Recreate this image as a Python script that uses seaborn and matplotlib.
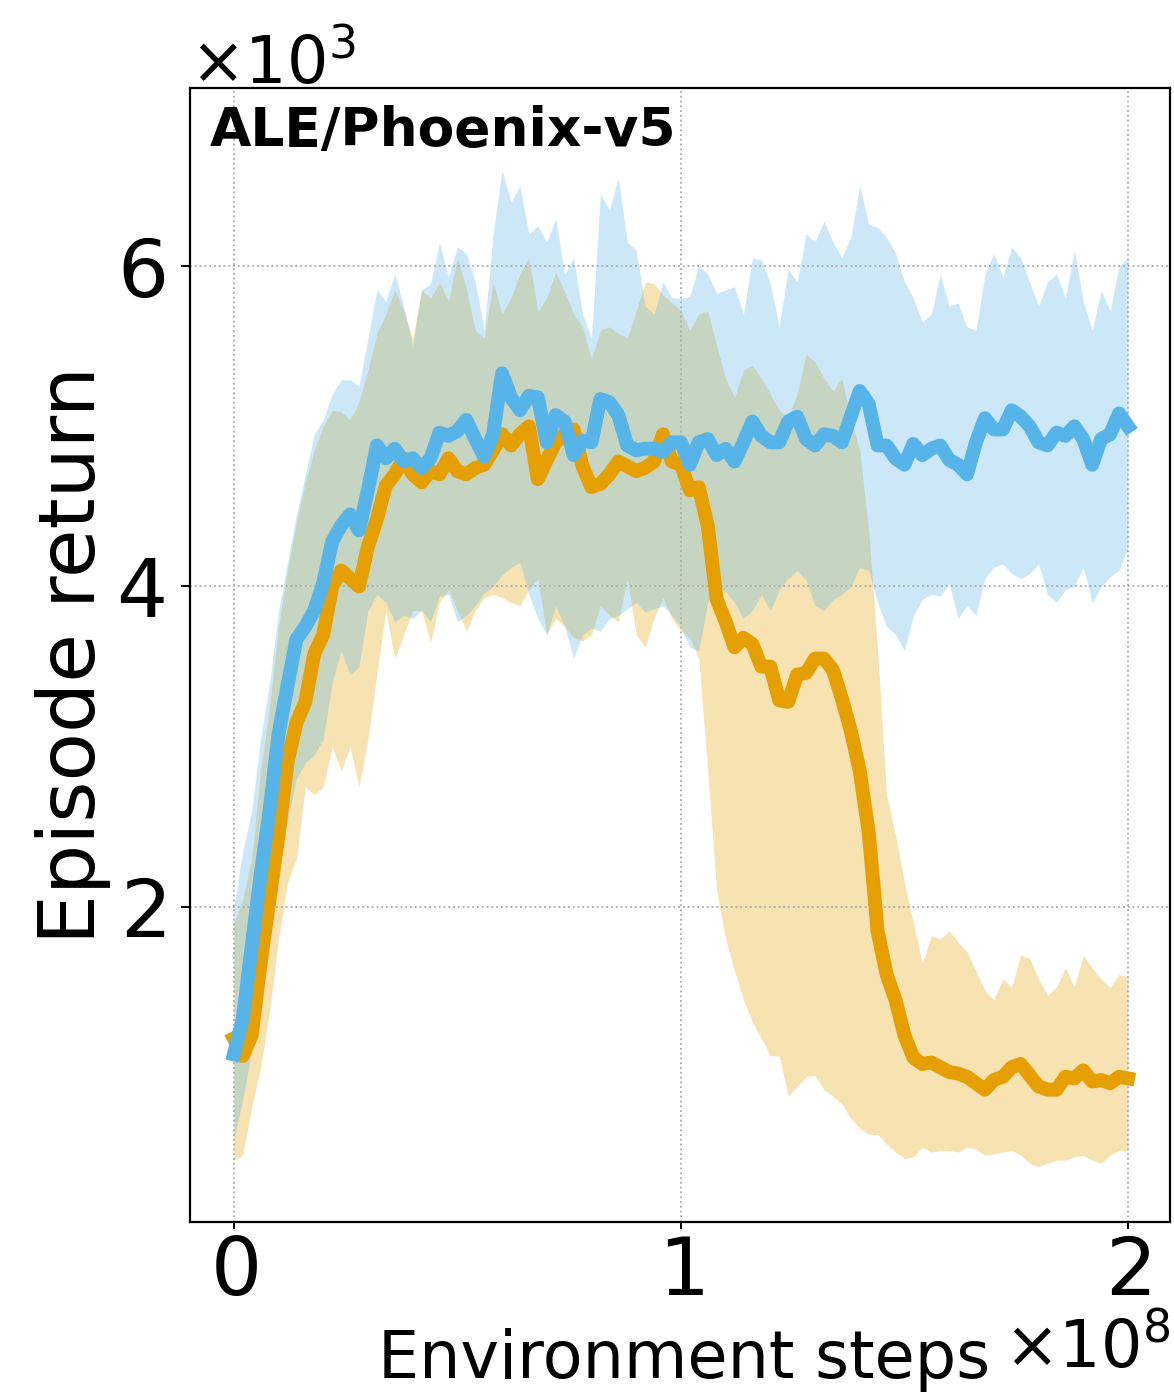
import numpy as np
import pandas as pd
import matplotlib
matplotlib.use("Agg")
import matplotlib.pyplot as plt
import seaborn as sns
from matplotlib.ticker import ScalarFormatter

# Environment steps: 101 evaluation points from 0 to 2e8
steps = np.linspace(0, 2e8, 101)

# Episode return (in thousands), mean and shaded band for each run group
blue_mean = [
    1.08, 1.30, 1.75, 2.20, 2.60, 3.08, 3.38, 3.67, 3.75, 3.85,
    4.02, 4.28, 4.38, 4.45, 4.35, 4.60, 4.88, 4.80, 4.86, 4.78,
    4.80, 4.74, 4.80, 4.96, 4.94, 4.97, 5.04, 4.92, 4.81, 4.95,
    5.33, 5.18, 5.10, 5.19, 5.18, 4.90, 5.07, 5.03, 4.82, 4.91,
    4.90, 5.17, 5.15, 5.07, 4.88, 4.85, 4.86, 4.86, 4.84, 4.90,
    4.90, 4.76, 4.90, 4.92, 4.82, 4.86, 4.78, 4.90, 5.03, 4.94,
    4.90, 4.90, 5.03, 5.06, 4.92, 4.88, 4.95, 4.94, 4.90, 5.06,
    5.22, 5.14, 4.88, 4.88, 4.80, 4.76, 4.89, 4.82, 4.86, 4.88,
    4.79, 4.76, 4.70, 4.90, 5.05, 4.98, 4.98, 5.10, 5.06, 5.00,
    4.90, 4.88, 4.96, 4.94, 5.00, 4.92, 4.76, 4.92, 4.95, 5.08,
    5.00,
]
blue_upper = [
    2.00, 2.35, 2.60, 3.05, 3.40, 3.85, 4.15, 4.45, 4.70, 4.95,
    5.04, 5.20, 5.29, 5.29, 5.25, 5.55, 5.85, 5.78, 5.95, 5.75,
    5.50, 5.85, 5.89, 6.15, 5.93, 6.12, 6.08, 5.90, 5.60, 6.20,
    6.60, 6.40, 6.50, 6.20, 6.25, 6.15, 6.30, 5.95, 6.05, 5.70,
    5.55, 6.45, 6.35, 6.55, 6.15, 6.10, 5.75, 5.70, 5.90, 5.80,
    5.80, 5.81, 6.00, 5.95, 5.83, 5.85, 5.87, 5.70, 6.05, 6.04,
    5.89, 5.62, 5.98, 5.90, 6.20, 6.15, 6.28, 6.15, 6.05, 6.18,
    6.50, 6.26, 6.24, 6.18, 6.08, 5.90, 5.80, 5.65, 5.70, 5.95,
    5.75, 5.77, 5.62, 5.60, 5.95, 6.08, 5.93, 6.12, 6.05, 5.90,
    5.75, 5.90, 5.95, 5.80, 6.10, 5.78, 5.60, 5.85, 5.72, 6.00,
    6.05,
]
blue_lower = [
    0.55, 0.80, 1.10, 1.45, 1.80, 2.20, 2.55, 2.80, 2.90, 2.95,
    3.05, 3.40, 3.60, 3.45, 3.50, 3.85, 3.95, 3.90, 3.78, 3.82,
    3.80, 3.85, 3.78, 3.94, 3.95, 3.78, 3.82, 3.88, 3.96, 4.00,
    4.07, 4.12, 4.15, 3.95, 3.80, 3.70, 3.88, 3.75, 3.55, 3.70,
    3.74, 3.72, 3.80, 3.82, 3.86, 3.90, 3.84, 3.86, 3.88, 3.82,
    3.75, 3.62, 3.60, 3.90, 3.98, 3.97, 3.90, 3.80, 3.85, 3.95,
    3.85, 3.98, 4.05, 4.10, 4.04, 3.88, 3.85, 3.92, 3.95, 4.00,
    4.12, 4.10, 3.90, 3.75, 3.70, 3.60, 3.82, 3.92, 3.95, 3.94,
    4.02, 3.80, 3.88, 3.82, 4.05, 4.12, 4.14, 4.08, 4.05, 4.08,
    4.14, 3.95, 3.90, 3.98, 4.00, 4.12, 3.90, 4.00, 4.06, 4.10,
    4.24,
]

orange_mean = [
    1.18, 1.07, 1.20, 1.65, 2.05, 2.45, 2.90, 3.15, 3.28, 3.58,
    3.70, 4.00, 4.10, 4.05, 4.00, 4.25, 4.42, 4.63, 4.70, 4.80,
    4.70, 4.65, 4.72, 4.70, 4.80, 4.72, 4.70, 4.74, 4.76, 4.85,
    4.95, 4.88, 4.95, 5.00, 4.67, 4.79, 4.90, 4.95, 4.98, 4.75,
    4.62, 4.64, 4.70, 4.78, 4.75, 4.72, 4.74, 4.78, 4.95, 4.78,
    4.76, 4.60, 4.62, 4.38, 3.92, 3.78, 3.62, 3.68, 3.64, 3.50,
    3.50, 3.29, 3.28, 3.45, 3.46, 3.55, 3.55, 3.48, 3.30, 3.10,
    2.85, 2.47, 1.85, 1.58, 1.42, 1.20, 1.06, 1.02, 1.03, 1.00,
    0.97, 0.96, 0.94, 0.90, 0.86, 0.92, 0.94, 1.00, 1.02, 0.95,
    0.88, 0.86, 0.86, 0.94, 0.93, 0.98, 0.91, 0.92, 0.90, 0.94,
    0.93,
]
orange_upper = [
    1.90, 2.05, 2.30, 2.85, 3.25, 3.75, 4.10, 4.40, 4.65, 4.85,
    5.00, 5.10, 5.09, 5.04, 5.15, 5.35, 5.58, 5.70, 5.85, 5.72,
    5.55, 5.85, 5.80, 5.90, 5.78, 6.05, 5.86, 5.60, 5.55, 5.90,
    5.70, 5.80, 5.95, 6.05, 5.72, 5.80, 5.96, 5.84, 5.70, 5.62,
    5.42, 5.60, 5.62, 5.58, 5.55, 5.72, 5.90, 5.89, 5.82, 5.77,
    5.72, 5.60, 5.70, 5.72, 5.50, 5.30, 5.18, 5.35, 5.38, 5.30,
    5.20, 5.10, 5.05, 5.20, 5.45, 5.40, 5.30, 5.22, 5.30, 5.05,
    4.85, 4.35, 3.60, 2.70, 2.45, 2.15, 1.90, 1.65, 1.82, 1.80,
    1.85, 1.78, 1.72, 1.60, 1.48, 1.42, 1.55, 1.50, 1.70, 1.68,
    1.55, 1.45, 1.50, 1.62, 1.50, 1.70, 1.62, 1.55, 1.50, 1.58,
    1.56,
]
orange_lower = [
    0.42, 0.45, 0.75, 1.00, 1.35, 1.80, 2.15, 2.30, 2.75, 2.70,
    2.75, 3.00, 2.85, 3.00, 2.75, 3.05, 3.45, 3.85, 3.55, 3.70,
    3.85, 3.85, 3.65, 3.90, 3.98, 3.85, 3.72, 3.85, 3.93, 3.95,
    3.93, 3.90, 3.88, 3.98, 4.05, 3.70, 3.80, 3.75, 3.68, 3.66,
    3.70, 3.88, 3.82, 3.78, 4.05, 3.70, 3.62, 3.80, 3.93, 3.80,
    3.72, 3.68, 3.55, 2.85, 2.10, 1.80, 1.60, 1.42, 1.28, 1.18,
    1.07, 1.07, 0.82, 0.88, 0.94, 0.95, 0.86, 0.82, 0.77, 0.68,
    0.62, 0.58, 0.58, 0.52, 0.47, 0.43, 0.44, 0.50, 0.47, 0.48,
    0.48, 0.47, 0.50, 0.49, 0.45, 0.46, 0.47, 0.48, 0.45, 0.40,
    0.38, 0.40, 0.42, 0.42, 0.44, 0.45, 0.42, 0.40, 0.45, 0.48,
    0.48,
]

ORANGE = "#E69F00"
BLUE = "#56B4E9"

plt.rcParams["font.family"] = ["DejaVu Sans"]
plt.rcParams["axes.formatter.use_mathtext"] = True

fig = plt.figure(figsize=(11.74, 13.92), dpi=100)
ax = fig.add_axes([0.16184, 0.12213, 0.83475, 0.81466])

scale = 1e3
ax.fill_between(steps, np.array(orange_lower) * scale, np.array(orange_upper) * scale,
                color=ORANGE, alpha=0.3, linewidth=0)
ax.fill_between(steps, np.array(blue_lower) * scale, np.array(blue_upper) * scale,
                color=BLUE, alpha=0.3, linewidth=0)

df = pd.concat([
    pd.DataFrame({"step": steps, "ret": np.array(orange_mean) * scale, "run": "orange"}),
    pd.DataFrame({"step": steps, "ret": np.array(blue_mean) * scale, "run": "blue"}),
], ignore_index=True)

sns.lineplot(data=df, x="step", y="ret", hue="run", hue_order=["orange", "blue"],
             palette={"orange": ORANGE, "blue": BLUE}, linewidth=10,
             legend=False, errorbar=None, ax=ax)

ax.set_xlim(-0.098e8, 2.094e8)
ax.set_ylim(34, 7111)
ax.set_xticks([0, 1e8, 2e8])
ax.set_yticks([2000, 4000, 6000])

for axis in (ax.xaxis, ax.yaxis):
    fmt = ScalarFormatter(useMathText=True)
    fmt.set_powerlimits((0, 0))
    axis.set_major_formatter(fmt)
    axis.get_offset_text().set_fontsize(47)

ax.tick_params(axis="both", labelsize=58, width=1.4, direction="out")
ax.tick_params(axis="x", length=5, pad=4)
ax.tick_params(axis="y", length=6.5, pad=11.5)
ax.grid(True, linestyle=":", color="#aaaaaa", linewidth=1.3)
for sp in ax.spines.values():
    sp.set_visible(True)
    sp.set_color("black")
    sp.set_linewidth(1.6)

ax.set_xlabel("Environment steps", fontsize=47, x=0.816, ha="right", labelpad=11)
ax.set_ylabel("Episode return", fontsize=57)
ax.text(0.02, 0.985, "ALE/Phoenix-v5", transform=ax.transAxes, fontsize=38.5,
        fontweight="bold", va="top", ha="left")

fig.savefig("out.png", dpi=100)
